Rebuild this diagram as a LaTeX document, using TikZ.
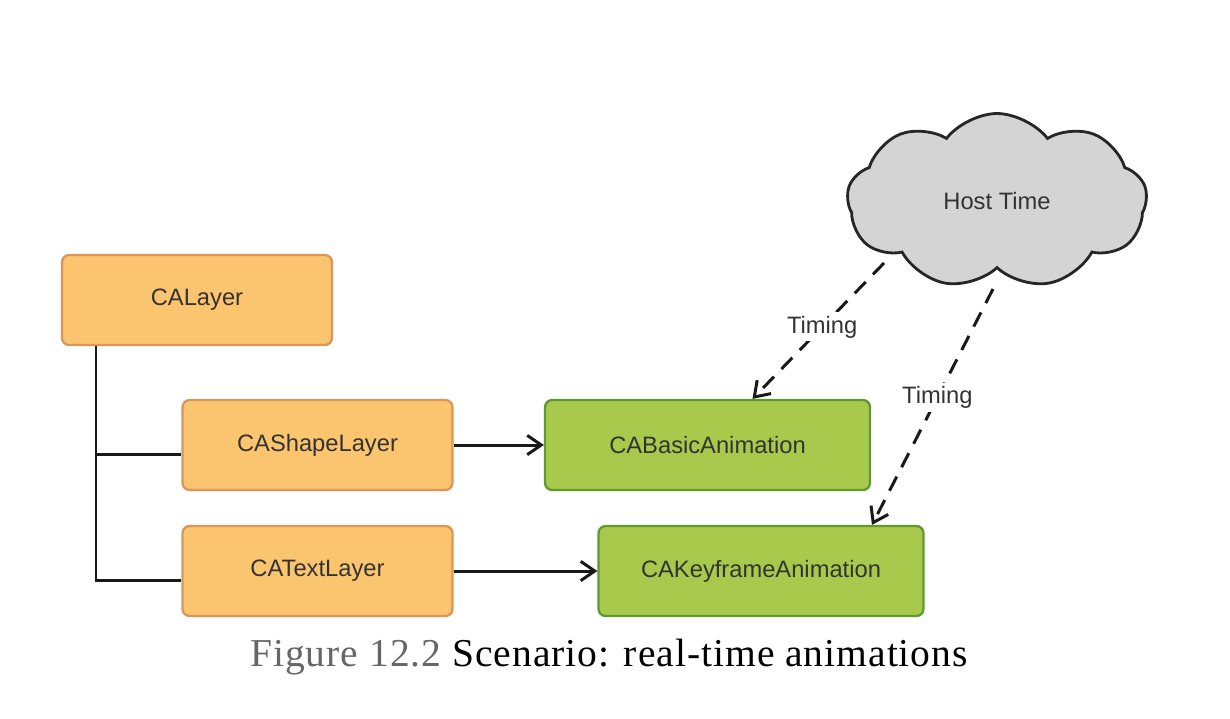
\documentclass[tikz,border=0pt]{standalone}
\usepackage{fontspec}
\setmainfont{Liberation Sans}
\newfontfamily\capfont[LetterSpace=2.5]{Liberation Serif}
\usetikzlibrary{shapes.symbols,arrows.meta,calc}
\definecolor{layerfill}{HTML}{FBC46E}
\definecolor{layerdraw}{HTML}{D9955A}
\definecolor{animfill}{HTML}{A8C94B}
\definecolor{animdraw}{HTML}{5E9A2E}
\definecolor{cloudfill}{HTML}{D4D4D4}
\definecolor{textgray}{HTML}{333333}
\definecolor{capgray}{HTML}{666666}
\begin{document}
\begin{tikzpicture}[x=0.02cm,y=-0.02cm,
  every node/.style={font=\fontsize{13.5}{16}\selectfont,text=textgray},
  layer/.style={draw=layerdraw,fill=layerfill,line width=1.3pt,rounded corners=4pt,
    minimum width=5.4cm,minimum height=1.8cm,inner sep=0pt},
  anim/.style={draw=animdraw,fill=animfill,line width=1.3pt,rounded corners=4pt,
    minimum width=6.5cm,minimum height=1.8cm,inner sep=0pt},
  tree/.style={line width=1.7pt,black!90},
  link/.style={line width=1.7pt,black!90,-{Straight Barb[length=8pt,width=11pt,line width=1.7pt]}},
  timing/.style={link,dash pattern=on 9pt off 6pt}]
\useasboundingbox (0,0) rectangle (1230,718);
\node[layer] (ca) at (197,300) {CALayer};
\node[layer] (shape) at (317.5,445) {CAShapeLayer};
\node[layer] (text) at (317.5,571) {CATextLayer};
\node[anim] (basic) at (707.5,445) {CABasicAnimation};
\node[anim] (key) at (761,571) {CAKeyframeAnimation};
\node[cloud,cloud puffs=9,cloud puff arc=105,aspect=2,draw=black!85,fill=cloudfill,line width=1.6pt,
  minimum width=6cm,minimum height=3.5cm,inner sep=0pt] (host) at (997,201) {Host Time};
% layer hierarchy
\draw[tree] ($(ca.south)+(-101,0)$) |- ($(shape.west)+(0,9)$);
\draw[tree] ($(ca.south)+(-101,0)$) |- ($(text.west)+(0,9)$);
\draw[link] (shape) -- (basic);
\draw[link] (text) -- (key);
% timing from host
\draw[timing] ($(host.center)+(-113,62)$) -- node[fill=white,inner sep=2pt,pos=0.47]{Timing} ($(basic.north)+(45,0)$);
\draw[timing] ($(host.center)+(-4,88)$) -- node[fill=white,inner sep=2pt,pos=0.46]{Timing} ($(key.north)+(111,0)$);
\node[anchor=base,text=black,font=\capfont\fontsize{22.5}{26}\selectfont] (cap) at (609,666)
  {\textcolor{capgray}{Figure 12.2} Scenario: real-time animations};
\end{tikzpicture}
\end{document}
